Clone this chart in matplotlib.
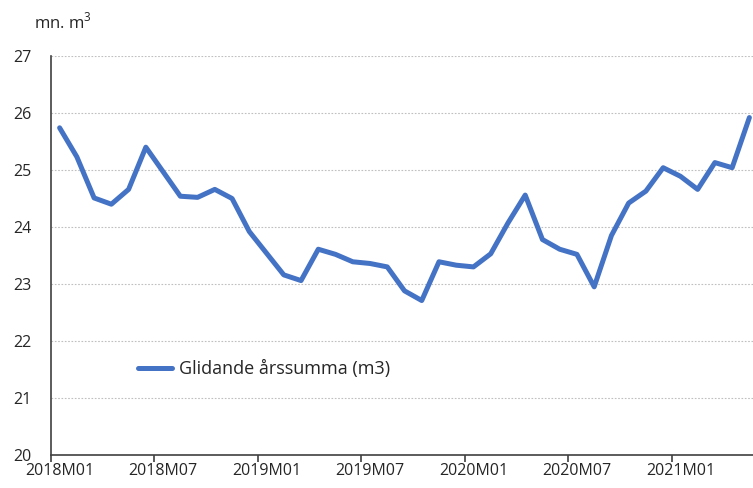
import matplotlib
matplotlib.use("Agg")
import matplotlib.pyplot as plt
import numpy as np

months = [f"{y}M{m:02d}" for y in (2018, 2019, 2020, 2021) for m in range(1, 13)][:41]
values = [25.74, 25.23, 24.51, 24.40, 24.66, 25.40, 24.97, 24.54, 24.52, 24.66,
          24.50, 23.92, 23.54, 23.16, 23.06, 23.61, 23.52, 23.39, 23.36, 23.30,
          22.88, 22.71, 23.39, 23.33, 23.30, 23.53, 24.07, 24.56, 23.78, 23.61,
          23.52, 22.95, 23.85, 24.42, 24.63, 25.04, 24.89, 24.66, 25.13, 25.04,
          25.92]
series_label = "Glidande årssumma (m3)"
y_label = "mn. m$^3$"
y_ticks = [20, 21, 22, 23, 24, 25, 26, 27]

plt.rcParams['font.family'] = ['Open Sans', 'DejaVu Sans']
plt.rcParams['mathtext.fontset'] = 'custom'
plt.rcParams['mathtext.rm'] = 'Open Sans'

fig = plt.figure(figsize=(7.53, 4.88), dpi=100)
ax = fig.add_axes([51/753, 33/488, 707/753, 399/488])

x = np.arange(len(values))
ax.plot(x, values, color="#4472C4", lw=3.6, solid_joinstyle="round",
        solid_capstyle="round", label=series_label)

ax.set_xlim(-0.5, len(values) - 0.5)
ax.set_ylim(20, 27)
ax.set_yticks(y_ticks)
ax.tick_params(axis="y", length=0, labelsize=11.5, colors="#262626", pad=14)

label_pos = list(range(0, len(values), 6))
ax.set_xticks(label_pos)
ax.set_xticklabels([months[i] for i in label_pos])
ax.set_xticks(np.arange(-0.5, len(values), 6), minor=True)
ax.tick_params(axis="x", which="major", length=0, labelsize=11.5, colors="#262626", pad=6)
ax.tick_params(axis="x", which="minor", length=5, width=1.2, color="#404040")

ax.grid(axis="y", color="#BFBFBF", linestyle=(0, (1.5, 1.5)), linewidth=0.8)
ax.set_axisbelow(True)
for s in ("top", "right"):
    ax.spines[s].set_visible(False)
for s in ("left", "bottom"):
    ax.spines[s].set_color("#404040")
    ax.spines[s].set_linewidth(1.2)

fig.text(34/753, 1 - 22/488, y_label, fontsize=12, color="#262626",
         ha="left", va="center")

leg = ax.legend(loc="center left", bbox_to_anchor=(0.1, 0.215), frameon=False,
                fontsize=13, handlelength=1.9, handletextpad=0.35,
                labelcolor="#262626")

fig.savefig("out.png", dpi=100)
